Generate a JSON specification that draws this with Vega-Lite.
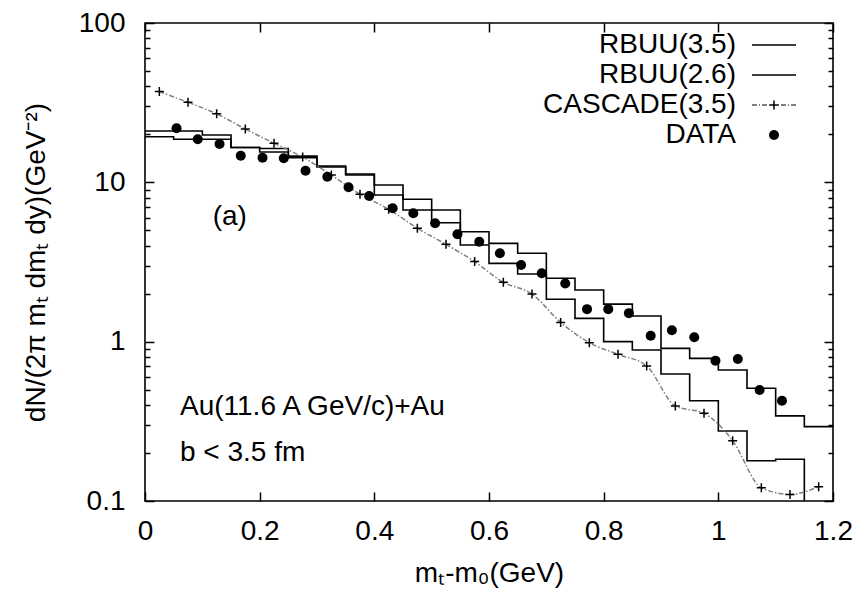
{
  "$schema": "https://vega.github.io/schema/vega-lite/v6.json",
  "width": 688,
  "height": 478,
  "autosize": {"type": "none"},
  "padding": {"left": 145, "top": 23, "right": 34, "bottom": 90},
  "background": "white",
  "datasets": {
    "hist": [
      {"mt": 0.00, "val": 19.34, "model": "RBUU(3.5)"},
      {"mt": 0.05, "val": 18.63, "model": "RBUU(3.5)"},
      {"mt": 0.10, "val": 18.63, "model": "RBUU(3.5)"},
      {"mt": 0.15, "val": 16.55, "model": "RBUU(3.5)"},
      {"mt": 0.20, "val": 16.3, "model": "RBUU(3.5)"},
      {"mt": 0.25, "val": 14.6, "model": "RBUU(3.5)"},
      {"mt": 0.30, "val": 12.66, "model": "RBUU(3.5)"},
      {"mt": 0.35, "val": 11.28, "model": "RBUU(3.5)"},
      {"mt": 0.40, "val": 9.62, "model": "RBUU(3.5)"},
      {"mt": 0.45, "val": 7.83, "model": "RBUU(3.5)"},
      {"mt": 0.50, "val": 6.71, "model": "RBUU(3.5)"},
      {"mt": 0.55, "val": 4.90, "model": "RBUU(3.5)"},
      {"mt": 0.60, "val": 4.14, "model": "RBUU(3.5)"},
      {"mt": 0.65, "val": 3.59, "model": "RBUU(3.5)"},
      {"mt": 0.70, "val": 2.50, "model": "RBUU(3.5)"},
      {"mt": 0.75, "val": 2.11, "model": "RBUU(3.5)"},
      {"mt": 0.80, "val": 1.72, "model": "RBUU(3.5)"},
      {"mt": 0.85, "val": 1.45, "model": "RBUU(3.5)"},
      {"mt": 0.90, "val": 0.908, "model": "RBUU(3.5)"},
      {"mt": 0.95, "val": 0.786, "model": "RBUU(3.5)"},
      {"mt": 1.00, "val": 0.664, "model": "RBUU(3.5)"},
      {"mt": 1.05, "val": 0.510, "model": "RBUU(3.5)"},
      {"mt": 1.10, "val": 0.342, "model": "RBUU(3.5)"},
      {"mt": 1.15, "val": 0.293, "model": "RBUU(3.5)"},
      {"mt": 1.20, "val": 0.293, "model": "RBUU(3.5)"},
      {"mt": 0.00, "val": 21.0, "model": "RBUU(2.6)"},
      {"mt": 0.05, "val": 21.0, "model": "RBUU(2.6)"},
      {"mt": 0.10, "val": 19.82, "model": "RBUU(2.6)"},
      {"mt": 0.15, "val": 16.55, "model": "RBUU(2.6)"},
      {"mt": 0.20, "val": 15.5, "model": "RBUU(2.6)"},
      {"mt": 0.25, "val": 14.3, "model": "RBUU(2.6)"},
      {"mt": 0.30, "val": 12.48, "model": "RBUU(2.6)"},
      {"mt": 0.35, "val": 11.12, "model": "RBUU(2.6)"},
      {"mt": 0.40, "val": 8.33, "model": "RBUU(2.6)"},
      {"mt": 0.45, "val": 6.71, "model": "RBUU(2.6)"},
      {"mt": 0.50, "val": 5.58, "model": "RBUU(2.6)"},
      {"mt": 0.55, "val": 4.04, "model": "RBUU(2.6)"},
      {"mt": 0.60, "val": 3.10, "model": "RBUU(2.6)"},
      {"mt": 0.65, "val": 2.66, "model": "RBUU(2.6)"},
      {"mt": 0.70, "val": 1.845, "model": "RBUU(2.6)"},
      {"mt": 0.75, "val": 1.40, "model": "RBUU(2.6)"},
      {"mt": 0.80, "val": 1.00, "model": "RBUU(2.6)"},
      {"mt": 0.85, "val": 0.887, "model": "RBUU(2.6)"},
      {"mt": 0.90, "val": 0.627, "model": "RBUU(2.6)"},
      {"mt": 0.95, "val": 0.426, "model": "RBUU(2.6)"},
      {"mt": 1.00, "val": 0.275, "model": "RBUU(2.6)"},
      {"mt": 1.05, "val": 0.179, "model": "RBUU(2.6)"},
      {"mt": 1.10, "val": 0.183, "model": "RBUU(2.6)"},
      {"mt": 1.15, "val": 0.05, "model": "RBUU(2.6)"},
      {"mt": 1.20, "val": 0.05, "model": "RBUU(2.6)"}
    ],
    "cascade": [
      {"mt": 0.025, "val": 37.1}, {"mt": 0.075, "val": 31.8}, {"mt": 0.125, "val": 26.9},
      {"mt": 0.175, "val": 21.6}, {"mt": 0.225, "val": 17.6}, {"mt": 0.275, "val": 14.4},
      {"mt": 0.325, "val": 11.1}, {"mt": 0.375, "val": 8.41}, {"mt": 0.425, "val": 6.77},
      {"mt": 0.475, "val": 5.15}, {"mt": 0.525, "val": 4.08}, {"mt": 0.575, "val": 3.18},
      {"mt": 0.625, "val": 2.36}, {"mt": 0.675, "val": 1.99}, {"mt": 0.725, "val": 1.32},
      {"mt": 0.775, "val": 0.985}, {"mt": 0.825, "val": 0.833}, {"mt": 0.875, "val": 0.704},
      {"mt": 0.925, "val": 0.395}, {"mt": 0.975, "val": 0.355}, {"mt": 1.025, "val": 0.239},
      {"mt": 1.075, "val": 0.121}, {"mt": 1.125, "val": 0.110}, {"mt": 1.175, "val": 0.123}
    ],
    "data": [
      {"mt": 0.055, "val": 21.84, "series": "DATA"},
      {"mt": 0.092, "val": 18.63, "series": "DATA"},
      {"mt": 0.130, "val": 17.40, "series": "DATA"},
      {"mt": 0.167, "val": 14.70, "series": "DATA"},
      {"mt": 0.205, "val": 14.28, "series": "DATA"},
      {"mt": 0.242, "val": 14.16, "series": "DATA"},
      {"mt": 0.280, "val": 11.83, "series": "DATA"},
      {"mt": 0.318, "val": 10.85, "series": "DATA"},
      {"mt": 0.355, "val": 9.31, "series": "DATA"},
      {"mt": 0.391, "val": 8.21, "series": "DATA"},
      {"mt": 0.432, "val": 6.87, "series": "DATA"},
      {"mt": 0.468, "val": 6.39, "series": "DATA"},
      {"mt": 0.506, "val": 5.53, "series": "DATA"},
      {"mt": 0.545, "val": 4.72, "series": "DATA"},
      {"mt": 0.583, "val": 4.24, "series": "DATA"},
      {"mt": 0.619, "val": 3.59, "series": "DATA"},
      {"mt": 0.656, "val": 3.03, "series": "DATA"},
      {"mt": 0.692, "val": 2.69, "series": "DATA"},
      {"mt": 0.733, "val": 2.32, "series": "DATA"},
      {"mt": 0.771, "val": 1.60, "series": "DATA"},
      {"mt": 0.808, "val": 1.60, "series": "DATA"},
      {"mt": 0.844, "val": 1.51, "series": "DATA"},
      {"mt": 0.882, "val": 1.09, "series": "DATA"},
      {"mt": 0.919, "val": 1.18, "series": "DATA"},
      {"mt": 0.958, "val": 1.065, "series": "DATA"},
      {"mt": 0.995, "val": 0.760, "series": "DATA"},
      {"mt": 1.034, "val": 0.779, "series": "DATA"},
      {"mt": 1.072, "val": 0.497, "series": "DATA"},
      {"mt": 1.111, "val": 0.426, "series": "DATA"}
    ]
  },
  "layer": [
    {
      "data": {"name": "hist"},
      "mark": {"type": "line", "interpolate": "step-after", "color": "black", "strokeWidth": 1.6, "clip": true},
      "encoding": {
        "x": {"field": "mt", "type": "quantitative",
          "scale": {"domain": [0, 1.2], "nice": false, "zero": false},
          "axis": {"orient": "bottom", "values": [0, 0.2, 0.4, 0.6, 0.8, 1, 1.2], "format": "~g", "tickSize": -9, "labelPadding": 25, "labelFlush": false, "labelOverlap": false, "title": "mₜ-m₀(GeV)", "titlePadding": 14}},
        "y": {"field": "val", "type": "quantitative",
          "scale": {"type": "log", "domain": [0.1, 100], "nice": false},
          "axis": {"orient": "left", "values": [0.1, 1, 10, 100], "format": "~g", "tickSize": -9, "labelPadding": 29, "labelFlush": false, "labelOverlap": false, "title": "dN/(2π mₜ dmₜ dy)(GeV⁻²)", "titlePadding": 28}},
        "detail": {"field": "model", "type": "nominal"}
      }
    },
    {
      "data": {"name": "cascade"},
      "mark": {"type": "line", "interpolate": "monotone", "color": "#808080", "strokeWidth": 1.5, "strokeDash": [5, 2, 1.5, 2], "clip": true},
      "encoding": {
        "x": {"field": "mt", "type": "quantitative",
          "scale": {"domain": [0, 1.2], "nice": false, "zero": false},
          "axis": {"orient": "top", "values": [0, 0.2, 0.4, 0.6, 0.8, 1, 1.2], "labels": false, "tickSize": -9, "title": null}},
        "y": {"field": "val", "type": "quantitative",
          "scale": {"type": "log", "domain": [0.1, 100], "nice": false},
          "axis": {"orient": "right", "values": [0.1, 1, 10, 100], "labels": false, "tickSize": -9, "title": null}}
      }
    },
    {
      "data": {"name": "cascade"},
      "mark": {"type": "point", "shape": "M-1,0L1,0M0,-1L0,1", "size": 81, "filled": false, "stroke": "black", "strokeWidth": 1.5, "opacity": 1, "clip": true},
      "encoding": {
        "x": {"field": "mt", "type": "quantitative",
          "scale": {"domain": [0, 1.2], "nice": false, "zero": false}, "axis": null},
        "y": {"field": "val", "type": "quantitative",
          "scale": {"type": "log", "domain": [0.1, 100], "nice": false},
          "axis": {"orient": "left", "values": [0.2, 0.3, 0.4, 0.5, 0.6, 0.7, 0.8, 0.9, 2, 3, 4, 5, 6, 7, 8, 9, 20, 30, 40, 50, 60, 70, 80, 90], "labels": false, "tickSize": -5, "title": null}}
      }
    },
    {
      "data": {"name": "data"},
      "mark": {"type": "point", "filled": true, "color": "black", "size": 100, "opacity": 1},
      "encoding": {
        "x": {"field": "mt", "type": "quantitative",
          "scale": {"domain": [0, 1.2], "nice": false, "zero": false}, "axis": null},
        "y": {"field": "val", "type": "quantitative",
          "scale": {"type": "log", "domain": [0.1, 100], "nice": false},
          "axis": {"orient": "right", "values": [0.2, 0.3, 0.4, 0.5, 0.6, 0.7, 0.8, 0.9, 2, 3, 4, 5, 6, 7, 8, 9, 20, 30, 40, 50, 60, 70, 80, 90], "labels": false, "tickSize": -5, "title": null}},
        "shape": {"field": "series", "type": "nominal",
          "scale": {"domain": ["RBUU(3.5)", "RBUU(2.6)", "CASCADE(3.5)", "DATA"],
                    "range": [
                      "M-4.4,-0.16L4.4,-0.16L4.4,0.16L-4.4,0.16Z",
                      "M-4.4,-0.16L4.4,-0.16L4.4,0.16L-4.4,0.16Z",
                      "M-4.4,-0.12L-3.4,-0.12L-3.4,0.12L-4.4,0.12ZM-3.0,-0.12L-2.8,-0.12L-2.8,0.12L-3.0,0.12ZM-2.4,-0.12L-1.4,-0.12L-1.4,0.12L-2.4,0.12ZM-1.0,-0.12L-0.8,-0.12L-0.8,0.12L-1.0,0.12ZM-0.9,-0.15L0.9,-0.15L0.9,0.15L-0.9,0.15ZM-0.15,-0.9L0.15,-0.9L0.15,0.9L-0.15,0.9ZM0.8,-0.12L1.0,-0.12L1.0,0.12L0.8,0.12ZM1.4,-0.12L2.4,-0.12L2.4,0.12L1.4,0.12ZM2.8,-0.12L3.0,-0.12L3.0,0.12L2.8,0.12ZM3.4,-0.12L4.4,-0.12L4.4,0.12L3.4,0.12Z",
                      "circle"]},
          "legend": {"orient": "none", "legendX": 615, "legendY": 8, "title": null, "direction": "vertical",
                     "symbolSize": 100, "labelAlign": "right", "labelOffset": -52, "labelFontSize": 28,
                     "labelFont": "Liberation Sans", "labelColor": "black", "rowPadding": 2, "padding": 0,
                     "symbolStrokeWidth": 0, "symbolFillColor": "black", "symbolOpacity": 1, "labelLimit": 400}}
      }
    },
    {
      "data": {"values": [{"t": "(a)"}]},
      "mark": {"type": "text", "align": "left", "baseline": "middle", "fontSize": 28, "font": "Liberation Sans", "color": "black"},
      "encoding": {
        "x": {"datum": 0.118, "type": "quantitative", "axis": null},
        "y": {"datum": 6.06, "type": "quantitative", "axis": null},
        "text": {"field": "t"}
      }
    },
    {
      "data": {"values": [{"t": "Au(11.6 A GeV/c)+Au"}]},
      "mark": {"type": "text", "align": "left", "baseline": "middle", "fontSize": 28, "font": "Liberation Sans", "color": "black"},
      "encoding": {
        "x": {"datum": 0.061, "type": "quantitative", "axis": null},
        "y": {"datum": 0.389, "type": "quantitative", "axis": null},
        "text": {"field": "t"}
      }
    },
    {
      "data": {"values": [{"t": "b < 3.5 fm"}]},
      "mark": {"type": "text", "align": "left", "baseline": "middle", "fontSize": 28, "font": "Liberation Sans", "color": "black"},
      "encoding": {
        "x": {"datum": 0.061, "type": "quantitative", "axis": null},
        "y": {"datum": 0.200, "type": "quantitative", "axis": null},
        "text": {"field": "t"}
      }
    }
  ],
  "resolve": {"axis": {"x": "independent", "y": "independent"}},
  "config": {
    "view": {"stroke": "black", "strokeWidth": 1.6},
    "axis": {"domain": false, "grid": false, "tickColor": "black", "tickWidth": 1.5,
             "labelFont": "Liberation Sans", "labelFontSize": 28, "labelColor": "black",
             "titleFont": "Liberation Sans", "titleFontSize": 28, "titleFontWeight": "normal", "titleColor": "black"}
  }
}
